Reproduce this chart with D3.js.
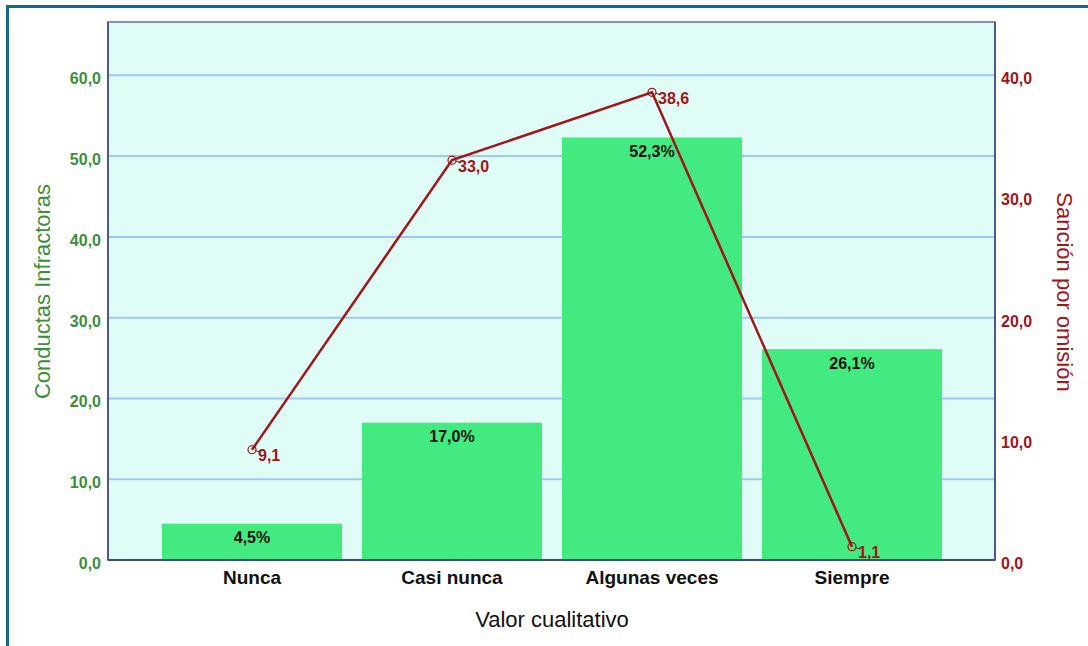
<!DOCTYPE html>
<html><head><meta charset="utf-8">
<script src="https://cdn.jsdelivr.net/npm/d3@7"></script>
<style>
body{margin:0;background:#fff;}
svg{display:block;}
text{font-family:"Liberation Sans",Arial,sans-serif;}
.b{font-weight:bold;}
</style></head>
<body><svg id="c" width="1088" height="646"></svg>
<script>
const categories = ["Nunca","Casi nunca","Algunas veces","Siempre"];
const barValues = [4.5, 17.0, 52.3, 26.1];
const lineValues = [9.1, 33.0, 38.6, 1.1];
const leftTicks = [0,10,20,30,40,50,60];
const rightTicks = [0,10,20,30,40];

const svg = d3.select("#c");
const L=108, R=995, T=22, B=560;
const green="#3a8f3a", red="#a0141a";
const fmt = d=>d.toFixed(1).replace(".",",");

// outer frame (top & left)
svg.append("line").attr("x1",7).attr("x2",1088).attr("y1",6.5).attr("y2",6.5).attr("stroke","#12688a").attr("stroke-width",3);
svg.append("line").attr("x1",7.5).attr("x2",7.5).attr("y1",5).attr("y2",646).attr("stroke","#12688a").attr("stroke-width",3);

const xc = d3.scaleBand().domain(categories).range([L+44,R-43]);
const yL = d3.scaleLinear().domain([0,66.6]).range([B,T]);
const yR = d3.scaleLinear().domain([0,44.4]).range([B,T]);
const cx = (i)=>xc(categories[i])+xc.bandwidth()/2;

svg.append("rect").attr("x",L).attr("y",T).attr("width",R-L).attr("height",B-T).attr("fill","#e0fcf6");

// gridlines
svg.append("g").selectAll("line").data(leftTicks.filter(d=>d>0)).join("line")
  .attr("x1",L).attr("x2",R).attr("y1",d=>yL(d)).attr("y2",d=>yL(d))
  .attr("stroke","#9fc7f2").attr("stroke-width",2);

// bars
svg.append("g").selectAll("rect").data(barValues).join("rect")
  .attr("x",(d,i)=>xc(categories[i])+xc.bandwidth()*0.05)
  .attr("width",xc.bandwidth()*0.9)
  .attr("y",d=>yL(d)).attr("height",d=>B-yL(d))
  .attr("fill","#43ea80");

// bar labels
svg.append("g").selectAll("text").data(barValues).join("text")
  .attr("class","b")
  .attr("x",(d,i)=>cx(i))
  .attr("y",d=>yL(d)+19.5)
  .attr("text-anchor","middle").attr("font-size",16).attr("fill","#111")
  .text(d=>fmt(d)+"%");

// frame
svg.append("rect").attr("x",L).attr("y",T).attr("width",R-L).attr("height",B-T)
  .attr("fill","none").attr("stroke","#8394b8").attr("stroke-width",2);
svg.append("line").attr("x1",L).attr("x2",L).attr("y1",T).attr("y2",B).attr("stroke","#4a5a8c").attr("stroke-width",2);
svg.append("line").attr("x1",R).attr("x2",R).attr("y1",T).attr("y2",B).attr("stroke","#4a5a8c").attr("stroke-width",2);
svg.append("line").attr("x1",L).attr("x2",R).attr("y1",B).attr("y2",B).attr("stroke","#3a4a80").attr("stroke-width",2);

// line series
svg.append("path").datum(lineValues)
  .attr("d", d3.line().x((d,i)=>cx(i)).y(d=>yR(d)))
  .attr("fill","none").attr("stroke",red).attr("stroke-width",2.5);
svg.append("g").selectAll("circle").data(lineValues).join("circle")
  .attr("cx",(d,i)=>cx(i)).attr("cy",d=>yR(d)).attr("r",4)
  .attr("fill","none").attr("stroke",red).attr("stroke-width",1.2);
svg.append("g").selectAll("line").data(lineValues).join("line")
  .attr("x1",(d,i)=>cx(i)+3.5).attr("x2",(d,i)=>cx(i)+7)
  .attr("y1",d=>yR(d)+1).attr("y2",d=>yR(d)+2).attr("stroke","#333").attr("stroke-width",1);
svg.append("g").selectAll("text").data(lineValues).join("text")
  .attr("class","b")
  .attr("x",(d,i)=>cx(i)+6).attr("y",d=>yR(d)+11.5)
  .attr("font-size",16).attr("fill",red)
  .text(fmt);

// axes tick labels
const axL = d3.axisLeft(yL).tickValues(leftTicks).tickSize(0).tickPadding(7).tickFormat(fmt);
const gL = svg.append("g").attr("transform",`translate(${L},0)`).call(axL);
gL.select(".domain").remove();
gL.selectAll("text").attr("class","b").attr("font-size",16).attr("fill",green).attr("dy",8.5);

const axR = d3.axisRight(yR).tickValues(rightTicks).tickSize(0).tickPadding(6).tickFormat(fmt);
const gR = svg.append("g").attr("transform",`translate(${R},0)`).call(axR);
gR.select(".domain").remove();
gR.selectAll("text").attr("class","b").attr("font-size",16).attr("fill",red).attr("dy",8.5);

const axB = d3.axisBottom(xc).tickSize(0).tickPadding(11);
const gB = svg.append("g").attr("transform",`translate(0,${B})`).call(axB);
gB.select(".domain").remove();
gB.selectAll("text").attr("class","b").attr("font-size",19).attr("fill","#111");

// titles
svg.append("text").attr("transform","translate(49.5,291.5) rotate(-90)").attr("text-anchor","middle")
  .attr("font-size",22).attr("fill",green).text("Conductas Infractoras");
svg.append("text").attr("transform","translate(1057,292) rotate(90)").attr("text-anchor","middle")
  .attr("font-size",22).attr("fill",red).text("Sanción por omisión");
svg.append("text").attr("x",552).attr("y",627).attr("text-anchor","middle")
  .attr("font-size",22).attr("fill","#111").text("Valor cualitativo");
</script></body></html>
